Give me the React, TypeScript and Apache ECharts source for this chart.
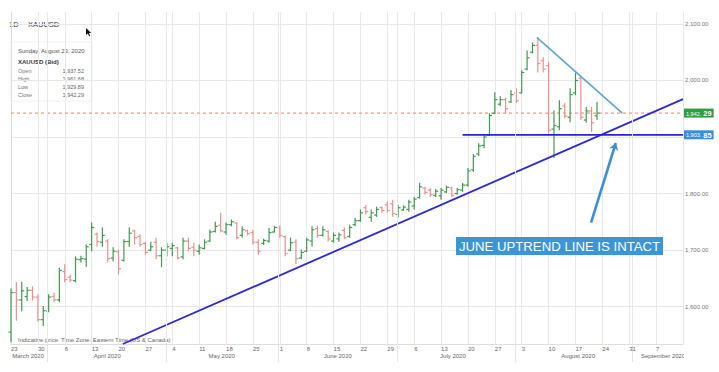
import React, { useEffect, useRef } from 'react';
import * as echarts from 'echarts';

// Weekly (Monday) day labels on the time axis, index = week number from Mar 23, 2020
const WEEK_LABELS = ['23', '30', '6', '13', '20', '27', '4', '11', '18', '25', '1', '8', '15', '22', '29', '6', '13', '20', '27', '3', '10', '17', '24', '31', '7'];
const MONTH_LABELS = ['March 2020', 'April 2020', 'May 2020', 'June 2020', 'July 2020', 'August 2020', 'September 2020'];
const MONTH_CENTERS = [3.2, 17.9, 39.2, 60.8, 82.2, 105.5, 121.3];
const MONTH_STARTS = [6.7, 28.9, 49.8, 71.8, 93.8, 115.5];
const Y_TICKS = [1600, 1700, 1800, 1900, 2000, 2100];
// 1,900.00 sits behind the support price tag in the reference, so it is not labelled
const Y_LABELS = [1600, 1700, 1800, 2000, 2100];

// Daily OHLC, one entry per trading day starting Mar 23, 2020
const OPEN = [
  1555, 1625, 1612, 1618, 1629, 1617, 1577, 1592, 1618, 1612,
  1662, 1652, 1646, 1683, 1684, 1710, 1728, 1714, 1716, 1686,
  1697, 1682, 1715, 1734, 1724, 1712, 1700, 1714, 1690, 1700,
  1703, 1704, 1688, 1716, 1705, 1698, 1703, 1716, 1733, 1744,
  1732, 1745, 1748, 1726, 1734, 1731, 1714, 1712, 1716, 1732,
  1740, 1724, 1700, 1714, 1686, 1698, 1716, 1738, 1726, 1733,
  1716, 1720, 1735, 1724, 1745, 1752, 1775, 1758, 1762, 1775,
  1780, 1782, 1763, 1771, 1772, 1778, 1793, 1810, 1806, 1797,
  1796, 1803, 1810, 1800, 1806, 1815, 1842, 1870, 1885, 1903,
  1942, 1958, 1966, 1962, 1978, 1978, 2020, 2050, 2062, 2035,
  2026, 1914, 1918, 1955, 1935, 1978, 2004, 1930, 1946, 1937.52,
];
const HIGH = [
  1632, 1643, 1644, 1635, 1636, 1622, 1601, 1622, 1625, 1669,
  1675, 1657, 1689, 1690, 1710, 1749, 1731, 1740, 1719, 1705,
  1701, 1719, 1740, 1736, 1728, 1715, 1715, 1722, 1705, 1713,
  1713, 1706, 1722, 1722, 1713, 1710, 1719, 1736, 1750, 1766,
  1749, 1754, 1749, 1742, 1736, 1736, 1719, 1720, 1739, 1743,
  1743, 1726, 1722, 1719, 1701, 1722, 1742, 1743, 1742, 1735,
  1731, 1731, 1740, 1745, 1757, 1772, 1780, 1772, 1777, 1777,
  1786, 1789, 1780, 1779, 1789, 1794, 1819, 1812, 1810, 1808,
  1810, 1814, 1812, 1810, 1819, 1845, 1870, 1889, 1905, 1942,
  1979, 1972, 1970, 1983, 1986, 2018, 2053, 2067, 2073, 2041,
  2032, 1947, 1965, 1960, 1986, 2013, 2006, 1953, 1953, 1961.68,
];
const LOW = [
  1537, 1575, 1592, 1610, 1611, 1574, 1566, 1590, 1608, 1608,
  1643, 1643, 1643, 1678, 1670, 1698, 1706, 1706, 1678, 1680,
  1657, 1680, 1706, 1710, 1706, 1692, 1698, 1684, 1670, 1689,
  1689, 1684, 1684, 1698, 1689, 1692, 1701, 1715, 1731, 1731,
  1727, 1742, 1719, 1722, 1726, 1710, 1692, 1709, 1713, 1731,
  1722, 1689, 1698, 1675, 1684, 1696, 1706, 1722, 1724, 1715,
  1713, 1715, 1719, 1722, 1742, 1750, 1763, 1750, 1759, 1766,
  1766, 1759, 1757, 1770, 1768, 1772, 1791, 1798, 1794, 1794,
  1789, 1801, 1794, 1798, 1803, 1812, 1838, 1866, 1880, 1902,
  1940, 1955, 1942, 1960, 1960, 1977, 2018, 2048, 2014, 2014,
  1906, 1863, 1912, 1933, 1926, 1974, 1930, 1925, 1909, 1929.89,
];
const CLOSE = [
  1625, 1612, 1628, 1629, 1617, 1577, 1593, 1617, 1612, 1664,
  1648, 1647, 1684, 1685, 1706, 1740, 1715, 1726, 1685, 1698,
  1667, 1715, 1730, 1722, 1710, 1696, 1706, 1690, 1700, 1706,
  1708, 1686, 1716, 1703, 1700, 1704, 1714, 1732, 1742, 1734,
  1745, 1750, 1722, 1736, 1729, 1714, 1698, 1717, 1731, 1740,
  1726, 1694, 1713, 1685, 1696, 1718, 1736, 1726, 1736, 1720,
  1726, 1727, 1722, 1740, 1752, 1766, 1768, 1766, 1772, 1770,
  1770, 1765, 1775, 1776, 1785, 1790, 1812, 1802, 1798, 1804,
  1806, 1811, 1797, 1807, 1815, 1840, 1866, 1884, 1900, 1938,
  1966, 1966, 1950, 1975, 1964, 2014, 2040, 2062, 2030, 2020,
  1912, 1920, 1950, 1937, 1975, 2000, 1935, 1946, 1925, 1942.29,
];

const LAST_CLOSE = 1942.29;
const SUPPORT = 1903.85;
const SUPPORT_START = 84;
const UPTREND = [[20.8, 1534], [125, 1967]];
const DOWNTREND = [[97.8, 2076], [113.7, 1942.3]];
const ARROW = [[107.9, 1748.6], [112.5, 1889.4]];

const INFO_DATE = 'Sunday, August 23, 2020';
const INFO_SYMBOL = 'XAUUSD (Bid)';
const INFO_ROWS = [['Open', '1,937.52'], ['High', '1,961.68'], ['Low', '1,929.89'], ['Close', '1,942.29']];

const GREEN = '#3f9a50';
const RED = '#ee8e8e';
const FONT = '"Liberation Sans", Arial, sans-serif';

const fmt = (v: number) => v.toLocaleString('en-US', { minimumFractionDigits: 2, maximumFractionDigits: 2 });

export default function App() {
  const ref = useRef<HTMLDivElement>(null);
  useEffect(() => {
    if (!ref.current) return;
    const chart = echarts.init(ref.current, undefined, { renderer: 'svg' });
    const data = OPEN.map((o, i) => [i, o, HIGH[i], LOW[i], CLOSE[i]]);
    const renderItem = (_p: any, api: any) => {
      const i = api.value(0);
      const o = api.value(1), h = api.value(2), l = api.value(3), c = api.value(4);
      const pO = api.coord([i, o]);
      const pH = api.coord([i, h]);
      const pL = api.coord([i, l]);
      const pC = api.coord([i, c]);
      const st = { stroke: c >= o ? GREEN : RED, lineWidth: 1.2 };
      return {
        type: 'group',
        children: [
          { type: 'line', shape: { x1: pH[0], y1: pH[1], x2: pL[0], y2: pL[1] }, style: st },
          { type: 'line', shape: { x1: pO[0] - 2.5, y1: pO[1], x2: pO[0], y2: pO[1] }, style: st },
          { type: 'line', shape: { x1: pC[0], y1: pC[1], x2: pC[0] + 2.5, y2: pC[1] }, style: st },
        ],
      };
    };
    const tagRich = {
      a: { color: '#fff', fontSize: 5.5, fontFamily: FONT },
      b: { color: '#fff', fontSize: 7.5, fontWeight: 'bold', fontFamily: FONT, padding: [0, 0, 0, 2] },
    };
    const lc = fmt(LAST_CLOSE);
    const sp = fmt(SUPPORT);
    const option: any = {
      animation: false,
      textStyle: { fontFamily: FONT },
      grid: { left: 11, right: 36, top: 12, bottom: 28, outerBoundsMode: 'none' },
      xAxis: [
        {
          type: 'value', min: 0, max: 125, interval: 5, position: 'bottom',
          axisLine: { show: true, lineStyle: { color: '#dedede' } },
          axisTick: { show: false },
          axisLabel: {
            fontSize: 6, color: '#666', align: 'left', margin: 2, showMaxLabel: false, showMinLabel: true,
            formatter: (v: number) => WEEK_LABELS[Math.round(v / 5)] ?? '',
          },
          splitLine: { show: true, lineStyle: { color: '#e8e8e8', width: 1 } },
        },
        {
          type: 'value', min: 0, max: 125, position: 'bottom',
          axisLine: { show: false },
          axisTick: { show: true, customValues: MONTH_STARTS, length: 18, lineStyle: { color: '#e4e4e4' } },
          axisLabel: {
            customValues: MONTH_CENTERS, fontSize: 6, color: '#666', margin: 9,
            formatter: (v: number) => {
              const idx = MONTH_CENTERS.findIndex((m) => Math.abs(m - v) < 0.01);
              return idx >= 0 ? MONTH_LABELS[idx] : '';
            },
          },
          splitLine: { show: false },
        },
      ],
      yAxis: {
        type: 'value', position: 'right', min: 1534, max: 2121,
        axisLine: { show: true, lineStyle: { color: '#dedede' } },
        axisTick: { show: false, customValues: Y_TICKS },
        axisLabel: { customValues: Y_LABELS, fontSize: 6, color: '#777', margin: 2, formatter: (v: number) => fmt(v) },
        splitLine: { show: true, lineStyle: { color: '#e8e8e8' } },
      },
      series: [
        {
          type: 'line', name: 'last', data: [[0, LAST_CLOSE], [125, LAST_CLOSE]], symbol: 'none', z: 2, silent: true,
          lineStyle: { color: '#f2805e', width: 1, type: [3, 3] },
          endLabel: {
            show: true, distance: 1, formatter: `{a|${lc.slice(0, -2)}}{b|${lc.slice(-2)}}`,
            backgroundColor: '#2f9e40', padding: [1, 2, 0, 2], rich: tagRich,
          },
        },
        {
          type: 'line', name: 'support', data: [[SUPPORT_START, SUPPORT], [125, SUPPORT]], symbol: 'none', z: 4, silent: true,
          lineStyle: { color: '#2525d8', width: 1.8 },
          endLabel: {
            show: true, distance: 1, formatter: `{a|${sp.slice(0, -2)}}{b|${sp.slice(-2)}}`,
            backgroundColor: '#3a8fdb', padding: [1, 2, 0, 2], rich: tagRich,
          },
        },
        {
          type: 'custom', name: 'XAUUSD', xAxisIndex: 0, renderItem, data, clip: false,
          encode: { x: 0, y: [1, 2, 3, 4] }, z: 3,
          markLine: {
            silent: true, symbol: ['none', 'none'], animation: false,
            data: [
              ...MONTH_STARTS.map((m) => ({ xAxis: m, lineStyle: { color: '#e8e8e8', width: 1, type: 'solid' }, label: { show: false } })),
              [
                { coord: ARROW[0], symbol: 'none', lineStyle: { color: '#3a8fd6', width: 2.6, type: 'solid' }, label: { show: false } },
                { coord: ARROW[1], symbol: 'arrow', symbolSize: 7 },
              ],
            ],
          },
        },
        {
          type: 'line', name: 'uptrend', data: UPTREND, symbol: 'none', z: 4,
          lineStyle: { color: '#2a2ad8', width: 1.8 }, silent: true,
        },
        {
          type: 'line', name: 'downtrend', data: DOWNTREND, symbol: 'none', z: 4,
          lineStyle: { color: '#5ea3d6', width: 1.6 }, silent: true,
        },
      ],
      graphic: [
        { type: 'text', x: 9, y: 24, style: { text: '1D', fontSize: 7.5, fill: '#444', fontFamily: FONT, verticalAlign: 'middle' } },
        { type: 'text', x: 28, y: 24, style: { text: 'XAUUSD', fontSize: 7.5, fill: '#333', fontFamily: FONT, verticalAlign: 'middle' } },
        { type: 'polygon', shape: { points: [[86, 28], [86, 35], [87.8, 33.4], [89.2, 36.2], [90.2, 35.7], [88.9, 33], [91.2, 33]] }, style: { fill: '#111' } },
        {
          type: 'group', z: 100,
          children: [
            { type: 'rect', shape: { x: 10, y: 42, width: 82, height: 59 }, style: { fill: '#fff', stroke: '#f1f1f1', lineWidth: 1 } },
            { type: 'text', x: 18, y: 51, style: { text: INFO_DATE, fontSize: 6, fill: '#555', fontFamily: FONT, verticalAlign: 'middle' } },
            { type: 'text', x: 18, y: 62, style: { text: INFO_SYMBOL, fontSize: 6, fontWeight: 'bold', fill: '#333', fontFamily: FONT, verticalAlign: 'middle' } },
            ...INFO_ROWS.flatMap((r, i) => [
              { type: 'text', x: 18, y: 71 + i * 8, style: { text: r[0], fontSize: 5.5, fill: '#777', fontFamily: FONT, verticalAlign: 'middle' } },
              { type: 'text', x: 84, y: 71 + i * 8, style: { text: r[1], fontSize: 5.5, fill: '#666', fontFamily: FONT, align: 'right', verticalAlign: 'middle' } },
            ]),
          ],
        },
        { type: 'text', x: 18, y: 340, style: { text: 'Indicative price', fontSize: 6, fill: '#666', fontFamily: FONT, verticalAlign: 'middle' } },
        { type: 'text', x: 61, y: 340, style: { text: 'Time Zone: Eastern Time (US & Canada)', fontSize: 6, fill: '#666', fontFamily: FONT, verticalAlign: 'middle' } },
        { type: 'rect', z: 100, shape: { x: 684, y: 348, width: 35, height: 16 }, style: { fill: '#fff' } },
        { type: 'rect', z: 100, shape: { x: 456, y: 237, width: 207, height: 18 }, style: { fill: '#3a96d8' } },
        {
          type: 'text', z: 101, x: 559.5, y: 246.5,
          style: { text: 'JUNE UPTREND LINE IS INTACT', fontSize: 13.2, fill: '#ffffff', stroke: 'none', lineWidth: 0, fontFamily: FONT, align: 'center', verticalAlign: 'middle' },
        },
      ],
    };
    chart.setOption(option);
    return () => chart.dispose();
  }, []);
  return <div ref={ref} style={{ position: 'fixed', left: 0, top: 0, width: 719, height: 372, background: '#fff' }} />;
}
